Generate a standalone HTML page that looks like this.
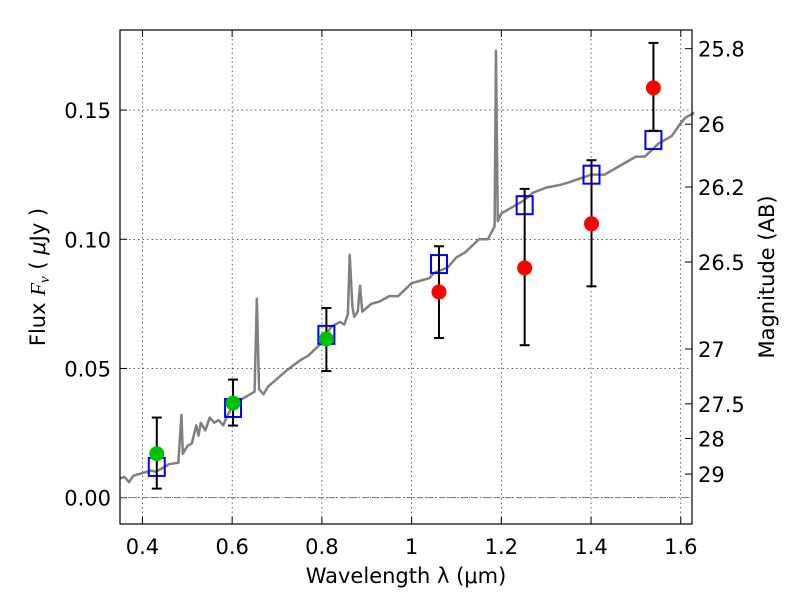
<!DOCTYPE html>
<html><head><meta charset="utf-8"><style>
body{margin:0;background:#fff}
svg text{font-family:"DejaVu Sans","Liberation Sans",sans-serif;font-size:21px;fill:#000}
</style></head><body>
<svg id="c" width="800" height="600"></svg>
<script>
const xTicks=[0.4,0.6,0.8,1.0,1.2,1.4,1.6];
const xTickLabels=["0.4","0.6","0.8","1","1.2","1.4","1.6"];
const yTicks=[0,0.05,0.10,0.15];
const yTickLabels=["0.00","0.05","0.10","0.15"];
const magTicks=[25.8,26,26.2,26.5,27,27.5,28,29];
const magLabels=["25.8","26","26.2","26.5","27","27.5","28","29"];
const specX=[0.35,0.36,0.37,0.38,0.40,0.42,0.43,0.45,0.46,0.48,0.487,0.49,0.50,0.51,0.52,0.525,0.53,0.54,0.55,0.56,0.57,0.58,0.59,0.60,0.62,0.64,0.650,0.655,0.660,0.67,0.68,0.70,0.72,0.75,0.77,0.80,0.82,0.84,0.85,0.858,0.862,0.868,0.872,0.88,0.885,0.89,0.91,0.93,0.95,0.97,1.0,1.02,1.04,1.05,1.08,1.10,1.12,1.15,1.17,1.185,1.188,1.192,1.20,1.22,1.25,1.27,1.30,1.33,1.35,1.40,1.43,1.45,1.48,1.50,1.52,1.55,1.58,1.60,1.61,1.63];
const specY=[0.0075,0.008,0.006,0.0085,0.0095,0.0105,0.010,0.012,0.013,0.0135,0.032,0.017,0.02,0.021,0.028,0.024,0.029,0.026,0.031,0.029,0.030,0.028,0.032,0.035,0.038,0.040,0.041,0.077,0.042,0.040,0.043,0.046,0.049,0.053,0.055,0.060,0.066,0.068,0.067,0.071,0.094,0.074,0.070,0.072,0.082,0.072,0.075,0.076,0.078,0.078,0.083,0.084,0.085,0.087,0.089,0.093,0.095,0.100,0.100,0.105,0.173,0.107,0.110,0.112,0.115,0.118,0.120,0.121,0.122,0.125,0.125,0.127,0.130,0.132,0.132,0.137,0.140,0.145,0.147,0.149];
const greenX=[0.432,0.602,0.81];
const greenY=[0.017,0.0366,0.0614];
const greenLo=[0.0035,0.0279,0.049];
const greenHi=[0.031,0.0457,0.0734];
const redX=[1.061,1.252,1.401,1.539];
const redY=[0.0796,0.0889,0.106,0.1586];
const redLo=[0.0618,0.059,0.0818,0.142];
const redHi=[0.0973,0.1195,0.1306,0.176];
const modelX=[0.432,0.602,0.81,1.061,1.252,1.401,1.539];
const modelY=[0.0119,0.0347,0.063,0.0904,0.1132,0.125,0.1384];

const L=120,R=692,T=30,B=524,X0=0.35,X1=1.625,Y0=-0.0102,Y1=0.181;
const sx=v=>L+(v-X0)/(X1-X0)*(R-L);
const sy=v=>B-(v-Y0)/(Y1-Y0)*(B-T);
const svg=document.getElementById('c');
const NS='http://www.w3.org/2000/svg';
function mk(tag,at,txt){const e=document.createElementNS(NS,tag);for(const k in at)e.setAttribute(k,at[k]);if(txt!==undefined)e.textContent=txt;svg.appendChild(e);return e;}
xTicks.forEach((t,i)=>{
 const g=mk('line',{x1:sx(t),x2:sx(t),y1:T,y2:B,stroke:'#000','stroke-width':0.6,'stroke-dasharray':'1.5,3'});
 
 const tk=mk('line',{x1:sx(t),x2:sx(t),y1:B,y2:B-7,stroke:'#000'});
 
 const tt=mk('line',{x1:sx(t),x2:sx(t),y1:T,y2:T+7,stroke:'#000'});
 
 const tx=mk('text',{x:sx(t),y:B+30,'text-anchor':'middle'},xTickLabels[i]);
 
});
yTicks.forEach((t,i)=>{
 const g=mk('line',{x1:L,x2:R,y1:sy(t),y2:sy(t),stroke:'#000','stroke-width':0.6,'stroke-dasharray':'1.5,3'});
 
 const tk=mk('line',{x1:L,x2:L+7,y1:sy(t),y2:sy(t),stroke:'#000'});
 
 const tx=mk('text',{x:L-9,y:sy(t)+8,'text-anchor':'end'},yTickLabels[i]);
 
});
const z=mk('line',{x1:L,x2:R,y1:sy(0),y2:sy(0),stroke:'#777','stroke-width':1,'stroke-dasharray':'6,2,1,2'});

magTicks.forEach((m,i)=>{
 const f=Math.pow(10,(23.9-m)/2.5);
 const tk=mk('line',{x1:R-7,x2:R,y1:sy(f),y2:sy(f),stroke:'#000'});
 
 const tx=mk('text',{x:R+6,y:sy(f)+8},magLabels[i]);
 
});
const sp=mk('polyline',{points:specX.map((x,i)=>sx(x)+','+sy(specY[i])).join(' '),fill:'none',stroke:'#808080','stroke-width':2.5,'stroke-linejoin':'round'});

modelX.forEach((x,i)=>{
 const r=mk('rect',{x:sx(x)-8,y:sy(modelY[i])-9,width:16,height:18,fill:'none',stroke:'#0000ff','stroke-width':2});
 
});
function pts(xs,ys,lo,hi,col,name){
 xs.forEach((x,i)=>{
  const e=mk('line',{x1:sx(x),x2:sx(x),y1:sy(lo[i]),y2:sy(hi[i]),stroke:'#000','stroke-width':2});
  
  [lo[i],hi[i]].forEach(v=>{const c=mk('line',{x1:sx(x)-5,x2:sx(x)+5,y1:sy(v),y2:sy(v),stroke:'#000','stroke-width':2});
   });
  const p=mk('circle',{cx:sx(x),cy:sy(ys[i]),r:7.5,fill:col});
  
 });
}
pts(greenX,greenY,greenLo,greenHi,'#00c000','hst-flux-point');
pts(redX,redY,redLo,redHi,'#ff0000','nir-flux-point');
const fr=mk('rect',{x:L,y:T,width:R-L,height:B-T,fill:'none',stroke:'#000','stroke-width':1.2});

const xl=mk('text',{x:(L+R)/2,y:583,'text-anchor':'middle'},'Wavelength  λ (μm)');

const yl=mk('text',{x:0,y:0,'text-anchor':'middle',transform:'translate(45,'+(T+B)/2+') rotate(-90)'});

yl.innerHTML='Flux  <tspan font-style="italic" font-family="Liberation Serif, serif">F</tspan><tspan font-style="italic" font-size="15" dy="4" font-family="Liberation Serif, serif">ν</tspan><tspan dy="-4">  ( </tspan><tspan font-style="italic">μ</tspan>Jy )';
const rl=mk('text',{x:0,y:0,'text-anchor':'middle',transform:'translate(774,'+(T+B)/2+') rotate(-90)'},'Magnitude (AB)');

</script>
</body></html>
